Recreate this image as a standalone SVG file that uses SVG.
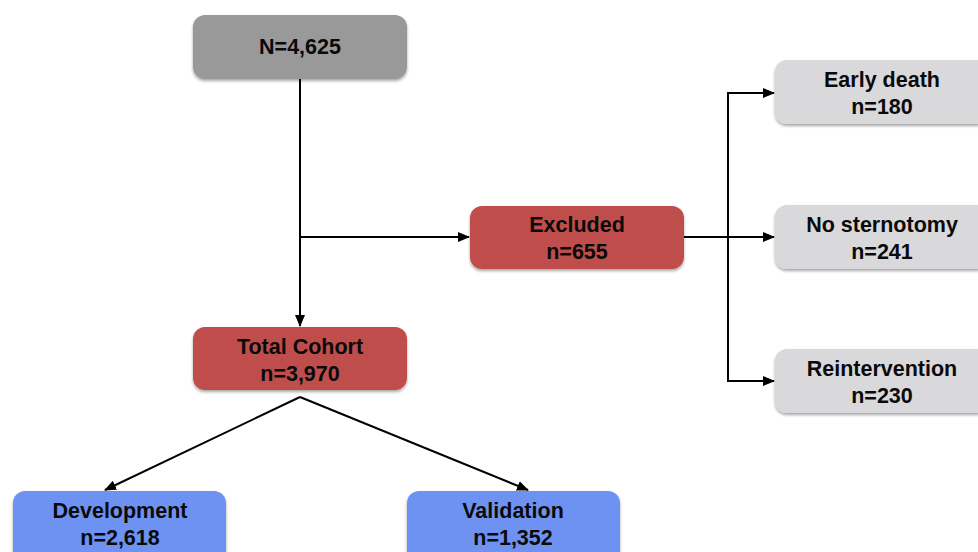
<svg xmlns="http://www.w3.org/2000/svg" width="978" height="552" viewBox="0 0 978 552">
<defs>
<filter id="sh" x="-10%" y="-10%" width="120%" height="130%">
<feDropShadow dx="0" dy="2" stdDeviation="1.5" flood-color="#000" flood-opacity="0.35"/>
</filter>
<marker id="ah" markerWidth="12" markerHeight="10" refX="11" refY="5" orient="auto" markerUnits="userSpaceOnUse">
<path d="M0,0 L12,5 L0,10 Z" fill="#000"/>
</marker>
</defs>
<style>
.box{filter:url(#sh)}
.gray{fill:#999999}
.red{fill:#bf4e4b}
.lg{fill:#d9d9db}
.blue{fill:#6e92f2}
text{font-family:"Liberation Sans",Arial,sans-serif;font-weight:bold;font-size:21.5px;fill:#0a0a0a;text-anchor:middle}
.ln{stroke:#000;stroke-width:2;fill:none}
</style>
<rect width="978" height="552" fill="#fff"/>
<g id="connectors">
<line class="ln" x1="300" y1="79" x2="300" y2="326" marker-end="url(#ah)"/>
<line class="ln" x1="300" y1="237" x2="469" y2="237" marker-end="url(#ah)"/>
<line class="ln" x1="684" y1="237" x2="774" y2="237" marker-end="url(#ah)"/>
<polyline class="ln" points="774,93 728,93 728,381 774,381"/>
<line class="ln" x1="729" y1="93" x2="774" y2="93" marker-end="url(#ah)"/>
<line class="ln" x1="729" y1="381" x2="774" y2="381" marker-end="url(#ah)"/>
<line class="ln" x1="300" y1="397" x2="105" y2="490" marker-end="url(#ah)"/>
<line class="ln" x1="300" y1="397" x2="528" y2="490" marker-end="url(#ah)"/>
</g>
<g id="n-total-all">
<rect class="box gray" x="193" y="15" width="214" height="64" rx="12"/>
<text x="300" y="54">N=4,625</text>
</g>
<g id="n-excluded">
<rect class="box red" x="470" y="206" width="214" height="63" rx="12"/>
<text x="577" y="232">Excluded</text>
<text x="577" y="259">n=655</text>
</g>
<g id="n-cohort">
<rect class="box red" x="193" y="327" width="214" height="63" rx="12"/>
<text x="300" y="354">Total Cohort</text>
<text x="300" y="381">n=3,970</text>
</g>
<g id="n-early">
<rect class="box lg" x="775" y="60" width="214" height="64" rx="12"/>
<text x="882" y="87">Early death</text>
<text x="882" y="114">n=180</text>
</g>
<g id="n-nosternotomy">
<rect class="box lg" x="775" y="205" width="214" height="64" rx="12"/>
<text x="882" y="232">No sternotomy</text>
<text x="882" y="259">n=241</text>
</g>
<g id="n-reint">
<rect class="box lg" x="775" y="349" width="214" height="64" rx="12"/>
<text x="882" y="376">Reintervention</text>
<text x="882" y="403">n=230</text>
</g>
<g id="n-dev">
<rect class="box blue" x="13" y="491" width="213" height="75" rx="12"/>
<text x="120" y="518">Development</text>
<text x="120" y="545">n=2,618</text>
</g>
<g id="n-val">
<rect class="box blue" x="407" y="491" width="213" height="75" rx="12"/>
<text x="513" y="518">Validation</text>
<text x="513" y="545">n=1,352</text>
</g>
</svg>
